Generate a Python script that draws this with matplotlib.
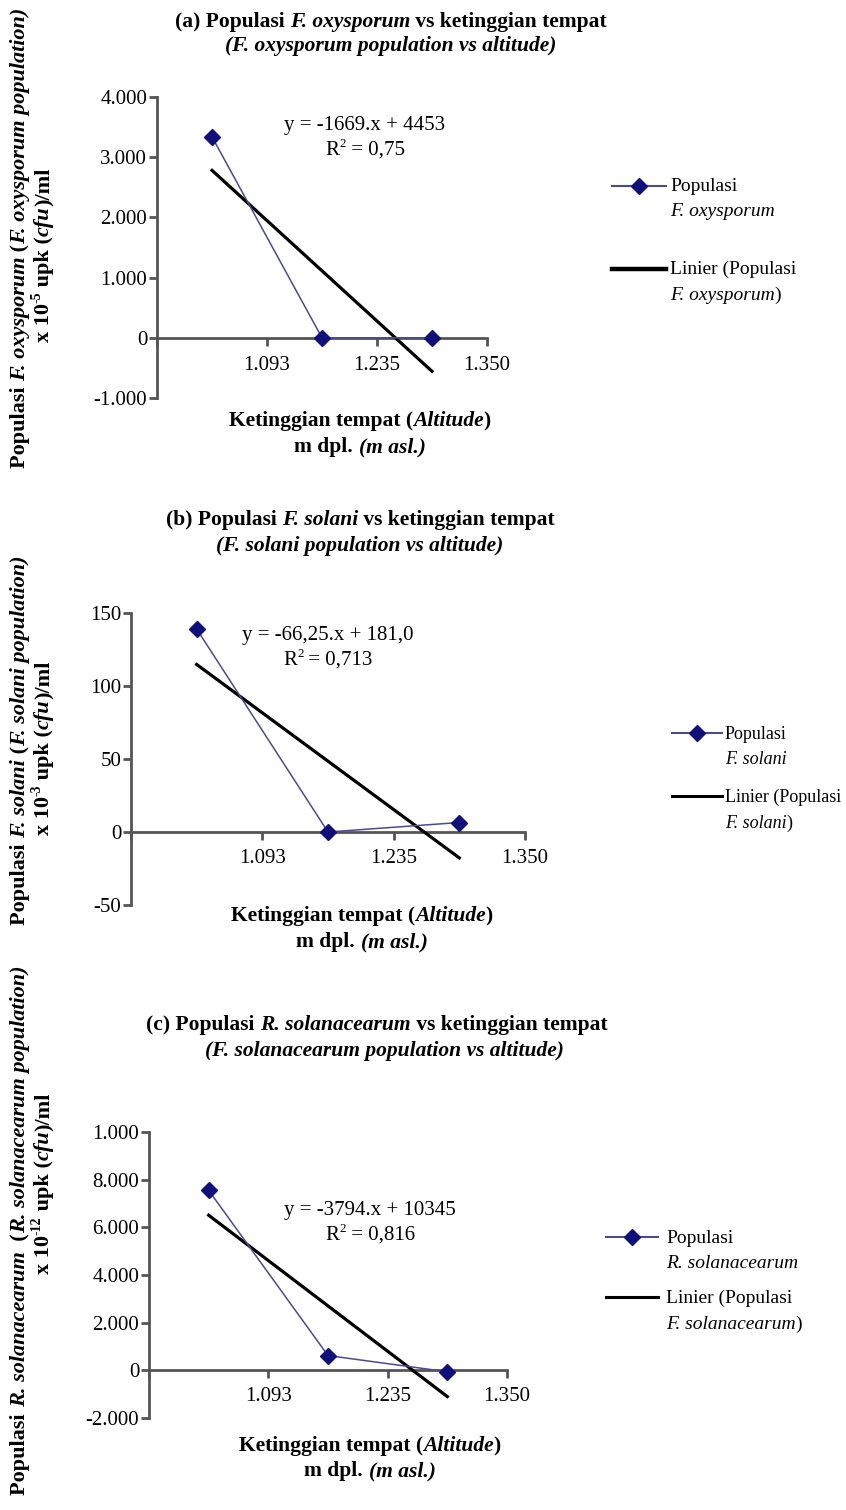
import numpy as np
import matplotlib
matplotlib.use('Agg')
import matplotlib.pyplot as plt
from matplotlib.font_manager import FontProperties
from matplotlib.transforms import IdentityTransform
from matplotlib.lines import Line2D

plt.rcParams['font.family'] = ['Liberation Serif', 'DejaVu Serif']

W, H = 846, 1510
FAM = 'Liberation Serif'

# ---------------- data ----------------
altitudes = ['1.093', '1.235', '1.350']
pop_oxysporum = [3338, 0, 0]
pop_solani = [139, 0, 6.5]
pop_solanacearum = [7550, 620, -60]

yticks_a = [-1000, 0, 1000, 2000, 3000, 4000]
ylabels_a = ['-1.000', '0', '1.000', '2.000', '3.000', '4.000']
yticks_b = [-50, 0, 50, 100, 150]
ylabels_b = ['-50', '0', '50', '100', '150']
yticks_c = [-2000, 0, 2000, 4000, 6000, 8000, 10000]
ylabels_c = ['-2.000', '0', '2.000', '4.000', '6.000', '8.000', '1.000']

eq_a = ['y = -1669.x + 4453', '0,75']
eq_b = ['y = -66,25.x + 181,0', '0,713']
eq_c = ['y = -3794.x + 10345', '0,816']

fig = plt.figure(figsize=(W / 100, H / 100), dpi=100)
renderer = fig.canvas.get_renderer()
ID = IdentityTransform()

SPINE = '#555555'
LINEC = '#4b4b8c'
MARKC = '#10107a'

TS = 15.5   # titles / x labels
YS = 16     # y labels
KS = 15     # tick labels
ES = 15     # equations
LS = 14     # legend


def fp(style='normal', weight='normal', size=14):
    return FontProperties(family=FAM, style=style, weight=weight, size=size)


def twidth(s, prop):
    w1, _, _ = renderer.get_text_width_height_descent('|' + s + '|', prop, ismath=False)
    w0, _, _ = renderer.get_text_width_height_descent('||', prop, ismath=False)
    return w1 - w0


def rich(x, y, segs, size=14, rot=0, ha='center', color='black'):
    """segs: list of (text, style, weight[, sup])  x,y: image px of baseline anchor"""
    items = []
    total = 0
    for seg in segs:
        text, style, weight = seg[0], seg[1], seg[2]
        sup = len(seg) > 3 and seg[3]
        p = fp(style, weight, size * 0.62 if sup else size)
        w = twidth(text, p)
        items.append((text, p, w, sup))
        total += w
    off = -total / 2 if ha == 'center' else (0 if ha == 'left' else -total)
    for text, p, w, sup in items:
        rise = size * 0.40 * 100 / 72 if sup else 0
        if rot == 0:
            px, py = x + off, (H - y) + rise
        else:
            px, py = x - rise, (H - y) + off
        fig.text(px, py, text, fontproperties=p, transform=ID, rotation=rot,
                 rotation_mode='anchor', ha='left', va='baseline', color=color)
        off += w


def make_panel(x0, x1, ytop, ybot, ylim, yticks, ylabels, vals, xpad):
    ax = fig.add_axes([x0 / W, 1 - ybot / H, (x1 - x0) / W, (ybot - ytop) / H])
    ax.patch.set_visible(False)
    ax.set_xlim(0, 3)
    ax.set_ylim(*ylim)
    for s in ['top', 'right']:
        ax.spines[s].set_visible(False)
    ax.spines['bottom'].set_position(('data', 0))
    for s in ['left', 'bottom']:
        ax.spines[s].set_color(SPINE)
        ax.spines[s].set_linewidth(2)
    ax.set_xticks([0, 1, 2, 3])
    ax.set_xticklabels([''] + altitudes)
    ax.set_yticks(yticks)
    ax.set_yticklabels(ylabels)
    ax.tick_params(axis='x', direction='out', length=6, width=2, color=SPINE,
                   pad=xpad, labelsize=KS)
    ax.tick_params(axis='y', direction='out', length=6, width=2, color=SPINE,
                   pad=1, labelsize=KS)
    pos = np.arange(len(vals)) + 0.5
    ax.plot(pos, vals, color=LINEC, lw=1.1, marker='D', ms=8.5, mfc=MARKC,
            mec=MARKC, zorder=4, clip_on=False)
    idx = np.arange(1, len(vals) + 1)
    m, b = np.polyfit(idx, vals, 1)
    ends = np.array([0, len(vals) - 1])
    ax.plot(pos[ends], m * idx[ends] + b, color='black', lw=2.3, zorder=3,
            clip_on=False)
    return ax


def legend(xl0, xl1, xt, yl1, yb1, yl2, yb2, name_it, lw2, size=LS):
    fig.add_artist(Line2D([xl0, xl1], [H - yl1, H - yl1], transform=ID,
                          color=LINEC, lw=1.5))
    fig.add_artist(Line2D([(xl0 + xl1) / 2], [H - yl1], transform=ID,
                          marker='D', ms=8.5, color=MARKC, lw=0))
    rich(xt, yb1, [('Populasi', 'normal', 'normal')], size=size, ha='left')
    rich(xt, yb1 + 25, [(name_it, 'italic', 'normal')], size=size, ha='left')
    fig.add_artist(Line2D([xl0, xl1], [H - yl2, H - yl2], transform=ID,
                          color='black', lw=lw2))
    rich(xt, yb2, [('Linier (Populasi', 'normal', 'normal')], size=size, ha='left')


B = 'bold'
N = 'normal'
I = 'italic'

# ---------------- panel (a) ----------------
make_panel(157, 487, 97, 398, (-1000, 4000), yticks_a, ylabels_a, pop_oxysporum, 7)
rich(391, 27, [('(a) Populasi ', N, B), ('F. oxysporum', I, B), (' vs ketinggian tempat', N, B)], size=TS)
rich(391, 51, [('(F. oxysporum population vs altitude)', I, B)], size=TS)
rich(365, 130, [(eq_a[0], N, N)], size=ES)
rich(365, 155, [('R', N, N), ('2', N, N, True), (' = ' + eq_a[1], N, N)], size=ES)
rich(360, 426, [('Ketinggian tempat (', N, B), ('Altitude', I, B), (')', N, B)], size=TS)
rich(360, 452, [('m dpl. ', N, B), ('(m asl.)', I, B)], size=TS)
rich(25, 238, [('Populasi ', N, B), ('F. oxysporum', I, B), (' (', N, B),
               ('F. oxysporum population)', I, B)], size=YS, rot=90)
rich(49, 255, [('x 10', N, B), ('-5', N, B, True), (' upk (', N, B), ('cfu', I, B),
               (')/ml', N, B)], size=YS, rot=90)
legend(612, 666, 670, 186, 191, 269, 274, 'F. oxysporum', 3.2)
rich(670, 300, [('F. oxysporum', I, N), (')', N, N)], size=LS, ha='left')

# ---------------- panel (b) ----------------
make_panel(131, 525, 613, 905, (-50, 150), yticks_b, ylabels_b, pop_solani, 6)
rich(360, 525, [('(b) Populasi ', N, B), ('F. solani', I, B), (' vs ketinggian tempat', N, B)], size=TS)
rich(360, 551, [('(F. solani population vs altitude)', I, B)], size=TS)
rich(328, 640, [(eq_b[0], N, N)], size=ES)
rich(328, 665, [('R', N, N), ('2', N, N, True), (' = ' + eq_b[1], N, N)], size=ES)
rich(362, 921, [('Ketinggian tempat (', N, B), ('Altitude', I, B), (')', N, B)], size=TS)
rich(362, 947, [('m dpl. ', N, B), ('(m asl.)', I, B)], size=TS)
rich(25, 740, [('Populasi ', N, B), ('F. solani', I, B), (' (', N, B),
               ('F. solani population)', I, B)], size=YS, rot=90)
rich(49, 748, [('x 10', N, B), ('-3', N, B, True), (' upk (', N, B), ('cfu', I, B),
               (')/ml', N, B)], size=YS, rot=90)
legend(672, 722, 725, 733, 739, 796, 802, 'F. solani', 2.2, size=13)
rich(725, 828, [('F. solani', I, N), (')', N, N)], size=13, ha='left')

# ---------------- panel (c) ----------------
make_panel(149, 507, 1132, 1418, (-2000, 10000), yticks_c, ylabels_c, pop_solanacearum, 6)
rich(377, 1030, [('(c) Populasi ', N, B), ('R. solanacearum', I, B), (' vs ketinggian tempat', N, B)], size=TS)
rich(384, 1056, [('(F. solanacearum population vs altitude)', I, B)], size=TS)
rich(370, 1215, [(eq_c[0], N, N)], size=ES)
rich(370, 1240, [('R', N, N), ('2', N, N, True), (' = ' + eq_c[1], N, N)], size=ES)
rich(370, 1451, [('Ketinggian tempat (', N, B), ('Altitude', I, B), (')', N, B)], size=TS)
rich(370, 1476, [('m dpl. ', N, B), ('(m asl.)', I, B)], size=TS)
rich(25, 1230, [('Populasi ', N, B), ('R. solanacearum', I, B), ('  (', N, B),
                ('R. solanacearum population)', I, B)], size=YS, rot=90)
rich(49, 1183, [('x 10', N, B), ('-12', N, B, True), (' upk (', N, B), ('cfu', I, B),
                (')/ml', N, B)], size=YS, rot=90)
legend(606, 658, 666, 1237, 1243, 1297, 1303, 'R. solanacearum', 2.2)
rich(666, 1329, [('F. solanacearum', I, N), (')', N, N)], size=LS, ha='left')

fig.savefig('out.png', dpi=100)
